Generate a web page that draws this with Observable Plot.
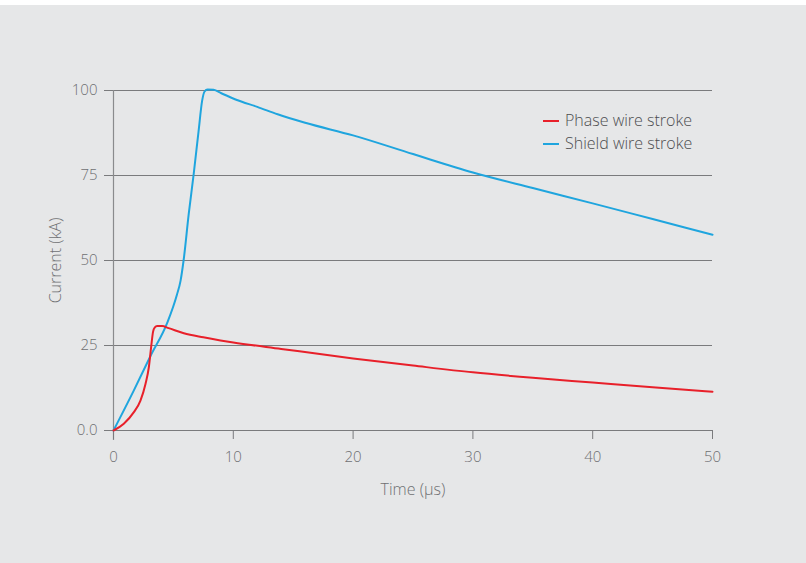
<!DOCTYPE html>
<html>
<head>
<meta charset="utf-8">
<script src="https://cdn.jsdelivr.net/npm/d3@7"></script>
<script src="https://cdn.jsdelivr.net/npm/@observablehq/plot@0.6"></script>
<style>
  html, body { margin: 0; padding: 0; background: #ffffff; }
  #wrap { position: absolute; left: 0; top: 5px; width: 806px; height: 558px; background: #e6e7e8; overflow: hidden; }
  #wrap svg text { font-weight: 300; }
  #legend { position: absolute; left: 543px; top: 104px; font-family: "Open Sans", sans-serif; font-weight: 300; font-size: 16px; color: #4d4e50; line-height: 23px; }
  #legend .item { display: flex; align-items: center; white-space: nowrap; }
  #legend .sw { display: inline-block; width: 16px; height: 2px; margin-right: 6px; }
</style>
</head>
<body>
<div id="wrap"><div id="legend"></div></div>
<script>
const seriesNames = ["Phase wire stroke", "Shield wire stroke"];
const seriesColors = ["#e8202a", "#1fa5de"];

const phaseTime = [0, 0.86, 1.7, 2.25, 2.67, 2.95, 3.14, 3.3, 3.45, 3.64, 4.06, 4.6, 5.87, 7.5, 8.93, 10, 14, 20, 25, 30, 35, 40, 45, 50];
const phaseCurrent = [0, 2.0, 5.4, 8.8, 13.7, 18.6, 24.5, 29.0, 30.3, 30.7, 30.7, 30.1, 28.6, 27.4, 26.5, 25.9, 24.0, 21.2, 19.1, 17.1, 15.5, 14.1, 12.7, 11.4];

const shieldTime = [0, 1.7, 3.1, 4.5, 5.3, 5.6, 5.85, 6.28, 6.7, 7.1, 7.4, 7.6, 7.85, 8.35, 9, 10.3, 12, 13.7, 16, 20, 25, 30, 35, 40, 45, 50];
const shieldCurrent = [0, 11.8, 22, 31.8, 40, 44.1, 50, 63.7, 75.6, 88, 97, 99.7, 100.3, 100.2, 99.2, 97.2, 95.2, 93, 90.5, 86.8, 81.3, 75.9, 71.3, 66.8, 62.2, 57.6];

const xTicks = [0, 10, 20, 30, 40, 50];
const yTicks = [0, 25, 50, 75, 100];
const yTickLabels = ["0.0", "25", "50", "75", "100"];

const phase = phaseTime.map((t, i) => ({t, v: phaseCurrent[i], s: seriesNames[0]}));
const shield = shieldTime.map((t, i) => ({t, v: shieldCurrent[i], s: seriesNames[1]}));

const textColor = "#6f7073";
const font = "'Open Sans', sans-serif";

const chart = Plot.plot({
  width: 806,
  height: 558,
  marginLeft: 113,
  marginRight: 94,
  marginTop: 85,
  marginBottom: 133,
  style: { background: "transparent", fontFamily: font, fontSize: "15px", color: textColor, overflow: "visible" },
  x: { domain: [0, 50] },
  y: { domain: [0, 100] },
  color: { domain: seriesNames, range: seriesColors },
  marks: [
    Plot.ruleY(yTicks, { stroke: "#7a7b7d", strokeWidth: 1, insetLeft: -9 }),
    Plot.ruleX([0], { stroke: "#8a8b8d", strokeWidth: 1.2, insetBottom: -10 }),
    Plot.axisX({ ticks: xTicks, tickSize: 9, tickPadding: 12, tickFormat: d => String(d), stroke: "#7a7b7d", fill: textColor, fontSize: 15, label: null }),
    Plot.axisX({ ticks: [], tickSize: 0, fill: textColor, fontSize: 16,
      label: "Time (µs)", labelAnchor: "center", labelArrow: "none", labelOffset: 64 }),
    Plot.axisY({ ticks: yTicks, tickSize: 0, tickPadding: 16, tickFormat: d => yTickLabels[yTicks.indexOf(d)], fill: textColor, fontSize: 15, label: null }),
    Plot.axisY({ ticks: [], tickSize: 0, fill: textColor, fontSize: 16,
      label: "Current (kA)", labelAnchor: "center", labelArrow: "none", labelOffset: 64 }),
    Plot.line(shield, { x: "t", y: "v", stroke: "s", strokeWidth: 2, curve: "monotone-x" }),
    Plot.line(phase, { x: "t", y: "v", stroke: "s", strokeWidth: 2, curve: "monotone-x" })
  ]
});
document.getElementById("wrap").appendChild(chart);
chart.style.position = "absolute";
chart.style.left = "0px";
chart.style.top = "0px";

const legend = document.getElementById("legend");
seriesNames.forEach((n, i) => {
  const item = document.createElement("div");
  item.className = "item";
  const sw = document.createElement("span");
  sw.className = "sw";
  sw.style.background = seriesColors[i];
  const tx = document.createElement("span");
  tx.textContent = n;
  item.appendChild(sw);
  item.appendChild(tx);
  legend.appendChild(item);
});
</script>
</body>
</html>
